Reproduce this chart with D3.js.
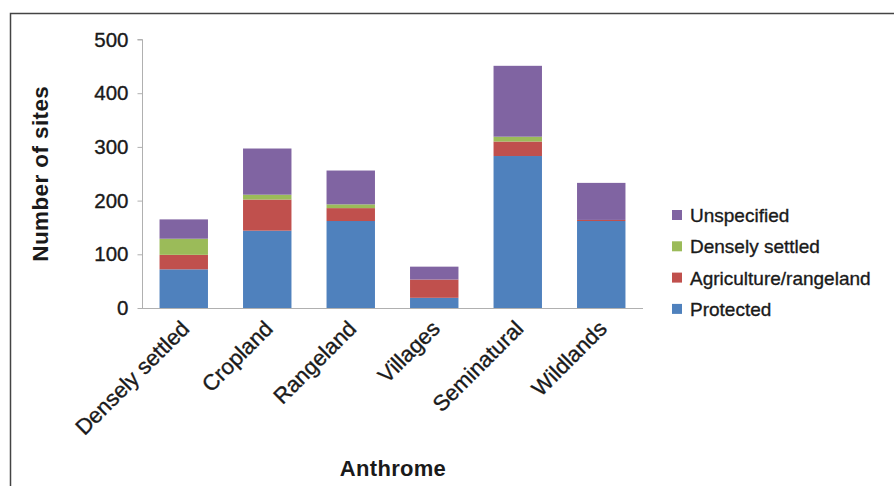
<!DOCTYPE html>
<html>
<head>
<meta charset="utf-8">
<script src="https://cdn.jsdelivr.net/npm/d3@7/dist/d3.min.js"></script>
<style>
  html, body { margin: 0; padding: 0; background: #fff; }
  svg { display: block; font-family: "Liberation Sans", Arial, Helvetica, sans-serif; }
  .lbl { fill: #1a1a1a; stroke: #1a1a1a; stroke-width: 0.35px; }
  .title { fill: #1a1a1a; font-weight: bold; }
</style>
</head>
<body>
<svg id="chart" width="894" height="486"></svg>
<script>
// Anthrome categories along the x axis
const categories = ["Densely settled", "Cropland", "Rangeland", "Villages", "Seminatural", "Wildlands"];

// Number of sites per land-use class, stacked bottom to top
const protectedSites   = [72, 144, 162, 19, 283, 162];
const agricultureSites = [27, 58, 24, 34, 27, 2];
const denselySites     = [30, 9, 7, 0, 9, 0];
const unspecifiedSites = [36, 86, 63, 24, 132, 69];

const seriesNames  = ["Protected", "Agriculture/rangeland", "Densely settled", "Unspecified"];
const seriesColors = ["#4f81bd", "#c0504d", "#9bbb59", "#8064a2"];
const yTicks = [0, 100, 200, 300, 400, 500];

const seriesValues = [protectedSites, agricultureSites, denselySites, unspecifiedSites];
const rows = categories.map((c, i) => {
  const r = { category: c };
  seriesNames.forEach((s, k) => { r[s] = seriesValues[k][i]; });
  return r;
});

const svg = d3.select("#chart");

// outer frame
svg.append("path")
  .attr("d", "M10.5,486 L10.5,13.5 L894,13.5")
  .attr("fill", "none")
  .attr("stroke", "#444")
  .attr("stroke-width", 1.5);

const x = d3.scaleBand().domain(categories).range([142, 643]).paddingInner(0.42).paddingOuter(0.21);
const y = d3.scaleLinear().domain([0, 500]).range([308, 39.5]);

const stacked = d3.stack().keys(seriesNames)(rows);

// stacked bars
const layers = svg.append("g").selectAll("g")
  .data(stacked)
  .join("g")
  .attr("fill", (d, i) => seriesColors[i]);

layers.selectAll("rect")
  .data(d => d)
  .join("rect")
  .attr("x", d => x(d.data.category))
  .attr("width", x.bandwidth())
  .attr("y", d => y(d[1]))
  .attr("height", d => Math.max(0, y(d[0]) - y(d[1])));

// y axis
const yAxis = svg.append("g")
  .attr("transform", "translate(142.5,0)")
  .call(d3.axisLeft(y).tickValues(yTicks).tickSize(5).tickPadding(9));
yAxis.select(".domain").attr("stroke", "#b0b0b0").attr("d", "M-5," + y(500) + "H0V" + y(0));
yAxis.selectAll(".tick line").attr("stroke", "#b0b0b0");
yAxis.selectAll(".tick text")
  .attr("class", "lbl")
  .attr("fill", null)
  .style("font-size", "20.5px");

// x axis baseline
svg.append("line")
  .attr("x1", 142).attr("x2", 643)
  .attr("y1", y(0) + 0.5).attr("y2", y(0) + 0.5)
  .attr("stroke", "#b0b0b0");

// rotated category labels
svg.append("g").selectAll("text")
  .data(categories)
  .join("text")
  .attr("class", "lbl")
  .attr("transform", d => `translate(${x(d) + x.bandwidth() / 2 + 7},${y(0) + 22}) rotate(-45)`)
  .attr("text-anchor", "end")
  .style("font-size", "22px")
  .text(d => d);

// axis titles
svg.append("text")
  .attr("class", "title")
  .attr("transform", `translate(48,${(y(0) + y(500)) / 2}) rotate(-90)`)
  .attr("text-anchor", "middle")
  .style("font-size", "22.5px")
  .style("letter-spacing", "0.4px")
  .text("Number of sites");

svg.append("text")
  .attr("class", "title")
  .attr("x", 393).attr("y", 476)
  .attr("text-anchor", "middle")
  .style("font-size", "22px")
  .style("letter-spacing", "0.3px")
  .text("Anthrome");

// legend, listed top to bottom in reverse stacking order
const legendItems = seriesNames.map((n, i) => ({ name: n, color: seriesColors[i] })).reverse();
const legend = svg.append("g").selectAll("g")
  .data(legendItems)
  .join("g")
  .attr("transform", (d, i) => `translate(672,${215 + i * 31.3})`);
legend.append("rect")
  .attr("x", 0).attr("y", -5).attr("width", 10).attr("height", 10)
  .attr("fill", d => d.color);
legend.append("text")
  .attr("class", "lbl")
  .attr("x", 18).attr("y", 7)
  .style("font-size", "19px")
  .text(d => d.name);
</script>
</body>
</html>
